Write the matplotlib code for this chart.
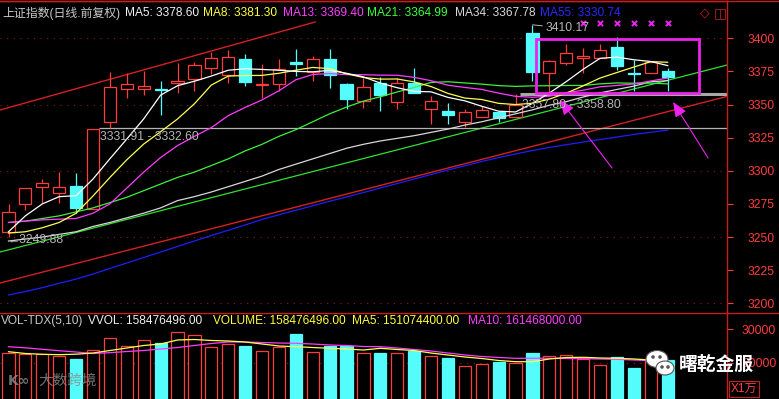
import matplotlib

matplotlib.use("Agg")
import matplotlib.pyplot as plt
from matplotlib.lines import Line2D
from matplotlib.patches import Ellipse
import numpy as np

plt.rcParams["font.family"] = ["Liberation Sans", "Noto Sans CJK SC", "DejaVu Sans"]

# ---- daily candles, 上证指数 ----
opens = [3253.6, 3274.7, 3287.5, 3283.5, 3288.8, 3271.2, 3336.6, 3362.0, 3361.7, 3361.8,
         3366.0, 3369.5, 3377.4, 3372.3, 3384.2, 3365.0, 3365.3, 3381.9, 3374.8, 3384.4,
         3365.5, 3352.7, 3366.5, 3352.2, 3366.0, 3346.6, 3345.4, 3336.6, 3340.9, 3344.6,
         3340.4, 3403.8, 3373.6, 3381.6, 3385.5, 3384.9, 3393.2, 3374.0, 3373.6, 3375.3]
highs = [3275.0, 3287.0, 3293.6, 3298.9, 3298.1, 3331.91, 3374.3, 3374.0, 3375.5, 3367.8,
         3381.1, 3382.4, 3389.9, 3391.2, 3388.2, 3380.6, 3384.2, 3391.9, 3386.6, 3391.9,
         3366.2, 3369.8, 3371.0, 3369.8, 3377.8, 3356.5, 3350.9, 3346.6, 3348.9, 3344.9,
         3357.8, 3410.17, 3383.5, 3395.5, 3392.5, 3395.5, 3401.2, 3383.6, 3383.0, 3377.8]
lows = [3249.88, 3270.4, 3275.5, 3275.5, 3267.9, 3270.8, 3332.6, 3355.2, 3357.2, 3341.9,
        3359.0, 3360.2, 3372.8, 3366.0, 3364.2, 3354.7, 3360.5, 3371.8, 3367.8, 3362.3,
        3346.4, 3347.5, 3345.4, 3346.6, 3358.5, 3335.3, 3335.3, 3333.3, 3340.9, 3337.1,
        3340.4, 3368.0, 3358.8, 3379.8, 3373.6, 3384.9, 3376.1, 3360.2, 3373.6, 3360.5]
closes = [3268.7, 3286.8, 3290.8, 3287.5, 3272.2, 3331.91, 3363.0, 3365.3, 3363.8, 3361.3,
          3367.8, 3379.8, 3384.9, 3385.7, 3366.8, 3365.5, 3376.6, 3380.4, 3384.2, 3372.3,
          3354.4, 3363.0, 3357.2, 3366.5, 3358.5, 3352.7, 3342.3, 3344.2, 3345.9, 3340.1,
          3349.7, 3374.8, 3383.1, 3388.7, 3386.5, 3391.2, 3379.3, 3373.4, 3382.3, 3371.0]

ma5 = [3254.0, 3266.0, 3275.0, 3280.5, 3281.2, 3293.8, 3309.1, 3324.0, 3339.2, 3357.1,
       3364.2, 3367.6, 3371.5, 3375.9, 3377.0, 3376.5, 3375.9, 3375.0, 3374.7, 3375.8,
       3373.6, 3370.9, 3366.2, 3362.7, 3359.9, 3359.6, 3355.4, 3352.8, 3348.7, 3345.0,
       3344.4, 3350.9, 3358.7, 3367.3, 3376.6, 3384.9, 3385.8, 3383.8, 3382.5, 3379.4]
ma8 = [3253.0, 3254.0, 3257.0, 3261.0, 3268.0, 3281.0, 3295.0, 3308.3, 3320.2, 3329.5,
       3339.1, 3350.6, 3364.7, 3371.5, 3371.9, 3372.0, 3373.6, 3375.9, 3378.0, 3377.1,
       3373.2, 3370.4, 3369.2, 3369.3, 3367.1, 3363.6, 3358.4, 3354.9, 3353.8, 3350.9,
       3350.0, 3351.0, 3354.1, 3358.6, 3364.1, 3370.0, 3374.2, 3378.3, 3382.4, 3381.9]
ma13 = [3261.0, 3262.0, 3263.0, 3263.5, 3264.0, 3268.0, 3275.0, 3287.0, 3299.0, 3310.0,
        3319.0, 3326.0, 3332.6, 3341.6, 3347.8, 3353.5, 3360.4, 3368.7, 3372.7, 3373.4,
        3372.6, 3372.5, 3372.2, 3372.1, 3370.5, 3368.0, 3364.6, 3362.9, 3361.4, 3358.6,
        3356.2, 3355.5, 3356.3, 3359.0, 3360.8, 3363.4, 3364.4, 3365.5, 3367.8, 3370.0]
ma21 = [3261.0, 3262.0, 3264.0, 3266.0, 3269.0, 3272.0, 3276.0, 3280.0, 3285.0, 3290.0,
        3295.0, 3299.0, 3304.0, 3309.0, 3315.0, 3320.0, 3326.0, 3331.0, 3337.0, 3343.0,
        3348.1, 3352.6, 3355.9, 3359.5, 3362.9, 3366.7, 3367.2, 3366.3, 3365.4, 3364.3,
        3363.7, 3364.1, 3364.2, 3364.4, 3364.4, 3365.6, 3366.3, 3366.1, 3366.2, 3365.6]
ma34 = [3247.0, 3248.5, 3250.0, 3252.0, 3254.0, 3258.0, 3261.0, 3264.5, 3268.0, 3272.0,
        3277.5, 3280.5, 3284.0, 3288.0, 3292.0, 3296.0, 3301.0, 3305.0, 3309.0, 3313.0,
        3317.0, 3320.0, 3322.5, 3324.5, 3326.5, 3329.0, 3331.5, 3334.5, 3337.0, 3340.0,
        3343.0, 3346.0, 3349.5, 3352.2, 3355.7, 3358.8, 3361.4, 3363.9, 3367.2, 3368.0]
ma55 = [3206.3, 3208.9, 3211.8, 3215.1, 3218.3, 3222.1, 3226.3, 3230.4, 3234.6, 3238.7,
        3242.9, 3247.0, 3251.2, 3255.1, 3259.1, 3263.3, 3266.8, 3270.2, 3273.6, 3277.0,
        3280.2, 3283.6, 3287.0, 3290.4, 3293.8, 3297.2, 3300.6, 3303.8, 3307.0, 3310.0,
        3312.7, 3315.3, 3317.6, 3319.7, 3321.7, 3323.6, 3325.5, 3327.4, 3329.1, 3330.7]

# volume in 万 (axis units)
volumes = [23000, 22600, 22600, 21900, 21100, 23700, 27300, 24900, 26700, 26000,
           29100, 28300, 24600, 25600, 25000, 23500, 24700, 28600, 23200, 25000,
           25000, 22900, 23000, 23000, 23600, 22000, 21500, 19000, 19600, 20300,
           19800, 23000, 22000, 22300, 21000, 19300, 21800, 18500, 20800, 20800]
vol_ma5 = [23290, 22750, 22520, 22400, 22550, 22900, 23650, 24400, 25150, 25600,
           26800, 26950, 26650, 26500, 26200, 25600, 25000, 24790, 24550, 24310,
           24100, 23800, 24310, 23950, 23650, 22900, 22300, 21710, 21260, 20660,
           20300, 20300, 21110, 21560, 21620, 21410, 21320, 21110, 20810, 20600]
vol_ma10 = [24790, 24460, 24010, 23590, 23200, 22750, 22990, 23350, 23650, 24100,
            24550, 25150, 25750, 26200, 26200, 26050, 25900, 25810, 25600, 25300,
            25150, 24850, 24790, 24400, 23950, 23500, 22900, 22310, 21860, 21560,
            21320, 21320, 21320, 21260, 21200, 21110, 21020, 20810, 20600, 20510]

# hand-drawn annotations, in (candle index, price)
upper_channel = ([-0.5, 18.14], [3345.9, 3412.3])
lower_channel = ([-0.5, 42.5], [3215.3, 3356.1])
green_trend = ([-0.5, 42.5], [3238.7, 3379.8])
box_idx = (31.21, 40.86)
box_price = (3358.9, 3399.1)
arrows = [((35.71, 3302.1), (32.63, 3353.4)), ((41.39, 3309.7), (39.32, 3351.9))]
gaps = [(5.36, 3331.91, 3332.60), (30.27, 3357.80, 3358.80)]
signal_idx = [34, 35, 36, 37, 38, 39]

price_ticks = list(range(3200, 3401, 25))
grid_levels = [3200, 3250, 3300, 3350, 3400]
vol_ticks = [20000, 30000]

header = [("上证指数(日线.前复权)", "#c8c8c8"), ("MA5: 3378.60", "#f0f0f0"),
          ("MA8: 3381.30", "#ffff3c"), ("MA13: 3369.40", "#ff3cff"),
          ("MA21: 3364.99", "#3cff3c"), ("MA34: 3367.78", "#d8d8d8"),
          ("MA55: 3330.74", "#2828ff")]
header_x = [2, 125, 203, 283, 367, 455, 540]
vol_header = [("VOL-TDX(5,10)", "#c8c8c8"), ("VVOL: 158476496.00", "#f0f0f0"),
              ("VOLUME: 158476496.00", "#ffff3c"), ("MA5: 151074400.00", "#ffff3c"),
              ("MA10: 161468000.00", "#ff3cff")]
vol_header_x = [1, 88, 213, 352, 468]

W, H = 779, 399
BG = "black"
RED = "#ff3c3c"
AXRED = "#c41e1e"
CYAN = "#54fcfc"
MAG = "#ee22ee"
GRAY = "#b4b4b4"

fig = plt.figure(figsize=(W / 100, H / 100), dpi=100, facecolor=BG)
split = (H - 312.7) / H
ax = fig.add_axes([0, split, 727 / W, 1 - split - 1 / H], facecolor=BG)
axv = fig.add_axes([0, 0, 727 / W, split], facecolor=BG)

idx = np.arange(len(closes))
o, h, l, c = (np.asarray(a, dtype=float) for a in (opens, highs, lows, closes))
up = c >= o
body_lo = np.minimum(o, c)
body_hi = np.maximum(o, c)
body_h = np.maximum(body_hi - body_lo, 0.4)

for level in grid_levels:
    ax.axhline(level, color="#8c1c1c", lw=0.8, ls=(0, (1, 5)), zorder=0)
axv.axhline(20000, color="#8c1c1c", lw=0.8, ls=(0, (1, 5)), zorder=0)

# channel / trend lines and gap markers
ax.plot(*upper_channel, color="#d42020", lw=1.0, zorder=1)
ax.plot(*lower_channel, color="#d42020", lw=1.0, zorder=1)
ax.plot(*green_trend, color="#30e030", lw=0.9, zorder=1)
ax.hlines((gaps[0][1] + gaps[0][2]) / 2, gaps[0][0], 42.5, color=GRAY, lw=0.9, zorder=1)
ax.hlines((gaps[1][1] + gaps[1][2]) / 2, gaps[1][0], 42.5, color="#a8a8a8", lw=2.2, zorder=1)

# candles
ax.vlines(idx[up], body_hi[up], h[up], color=RED, lw=0.9, zorder=2)
ax.vlines(idx[up], l[up], body_lo[up], color=RED, lw=0.9, zorder=2)
ax.vlines(idx[~up], l[~up], h[~up], color=CYAN, lw=0.9, zorder=2)
ax.bar(idx[up], body_h[up], bottom=body_lo[up], width=0.72, facecolor=BG,
       edgecolor=RED, lw=0.9, zorder=2)
ax.bar(idx[~up], body_h[~up], bottom=body_lo[~up], width=0.72, facecolor=CYAN,
       edgecolor=CYAN, lw=0.9, zorder=2)

for vals, col in [(ma55, "#1e1eff"), (ma34, "#d8d8d8"), (ma21, "#3cf03c"),
                  (ma13, "#ff3cff"), (ma8, "#ffff50"), (ma5, "#ffffff")]:
    ax.plot(idx, vals, color=col, lw=0.9, zorder=3)

ax.scatter(signal_idx, [3411.8] * len(signal_idx), marker="x", s=14, color=MAG, lw=1.4, zorder=4)

ax.add_patch(plt.Rectangle((box_idx[0], box_price[0]), box_idx[1] - box_idx[0],
                           box_price[1] - box_price[0], fill=False, edgecolor=MAG,
                           lw=2.0, zorder=4))
for tail, head in arrows:
    ax.annotate("", xy=head, xytext=tail, zorder=4,
                arrowprops=dict(arrowstyle="-|>,head_length=0.6,head_width=0.25",
                                color=MAG, lw=0.8, mutation_scale=15, shrinkA=0, shrinkB=0))

txt = dict(color=GRAY, fontsize=8.7, va="center", ha="left", zorder=5)
ax.text(gaps[0][0] + 0.06, 3325.5, f"{gaps[0][1]:.2f} - {gaps[0][2]:.2f}", **txt)
ax.text(gaps[1][0] + 0.12, 3350.0, f"{gaps[1][1]:.2f} - {gaps[1][2]:.2f}", **txt)
ax.annotate(f"{highs[31]:.2f}", xy=(31.0, highs[31]), xytext=(31.75, 3407.5),
            arrowprops=dict(arrowstyle="-", color=GRAY, lw=0.7, shrinkA=0, shrinkB=0),
            **txt)
ax.text(-0.03, 3248.0, f"←{lows[0]:.2f}", **txt)

# volume
vol = np.asarray(volumes, dtype=float)
axv.bar(idx[up], vol[up], width=0.72, facecolor=BG, edgecolor=RED, lw=0.9, zorder=2)
axv.bar(idx[~up], vol[~up], width=0.72, facecolor=CYAN, edgecolor=CYAN, lw=0.9, zorder=2)
axv.plot(idx, vol_ma10, color="#ff3cff", lw=0.9, zorder=3)
axv.plot(idx, vol_ma5, color="#ffff50", lw=0.9, zorder=3)

for a in (ax, axv):
    a.set_xlim(-0.503, 42.51)
    a.yaxis.tick_right()
    a.tick_params(axis="x", bottom=False, labelbottom=False)
    for side in ("left", "bottom"):
        a.spines[side].set_visible(False)
    for side in ("right", "top"):
        a.spines[side].set_color(AXRED)
        a.spines[side].set_linewidth(1.0)

ax.set_ylim(3192.9, 3428.15)
ax.set_yticks(price_ticks)
ax.tick_params(axis="y", colors=RED, length=4.3, width=0.8, pad=10.8, labelsize=8.7)
axv.set_ylim(9132, 34970)
axv.set_yticks(vol_ticks)
axv.set_yticklabels([str(v) for v in vol_ticks])
axv.tick_params(axis="y", colors=RED, length=4.3, width=0.8, pad=6.5, labelsize=8.7)

# headers
def px(x, y):
    return x / W, 1 - y / H

for (s, col), x in zip(header, header_x):
    fig.text(*px(x, 13), s, color=col, fontsize=8.6, va="center", ha="left")
for (s, col), x in zip(vol_header, vol_header_x):
    fig.text(*px(x, 321), s, color=col, fontsize=8.6, va="center", ha="left")
fig.text(*px(700, 13), "◇", color=AXRED, fontsize=9, va="center", ha="left",
         family="DejaVu Sans")
fig.text(*px(714, 13), "◫", color=AXRED, fontsize=10, va="center", ha="left",
         family="DejaVu Sans")
fig.add_artist(Line2D([727 / W, 1], [split, split], color=AXRED, lw=1.0))
fig.add_artist(Line2D([0, 1], [1 - 0.5 / H, 1 - 0.5 / H], color=AXRED, lw=1.0))
fig.text(*px(731, 389), "X1万", color=RED, fontsize=8.6, va="center", ha="left",
         bbox=dict(boxstyle="square,pad=0.15", facecolor=BG, edgecolor=AXRED, lw=0.8))

# watermarks
deco = fig.add_axes([0, 0, 1, 1], facecolor="none", zorder=10)
deco.set_xlim(0, W)
deco.set_ylim(H, 0)
deco.axis("off")
deco.text(8, 381, "K∞", color="#8c8c8c", alpha=0.8, fontsize=10, va="center",
          family="DejaVu Sans", weight="bold")
deco.text(38, 381, "大数跨境", color="#8c8c8c", alpha=0.8, fontsize=10.5, va="center",
          family="Noto Sans CJK SC")
deco.add_patch(Ellipse((657, 359), 22, 17, facecolor="white", edgecolor="#555555", lw=0.8))
deco.add_patch(Ellipse((665, 368), 18, 14, facecolor="white", edgecolor="#555555", lw=0.8))
for ex, ey in [(653, 357), (660, 357), (662, 367), (668, 367)]:
    deco.add_patch(Ellipse((ex, ey), 2.2, 2.2, color="#555555"))
deco.text(679, 364, "曙乾金服", color="white", fontsize=13.5, va="center",
          family="Noto Sans CJK SC", weight="bold")

fig.savefig("out.png", dpi=100, facecolor=BG)
